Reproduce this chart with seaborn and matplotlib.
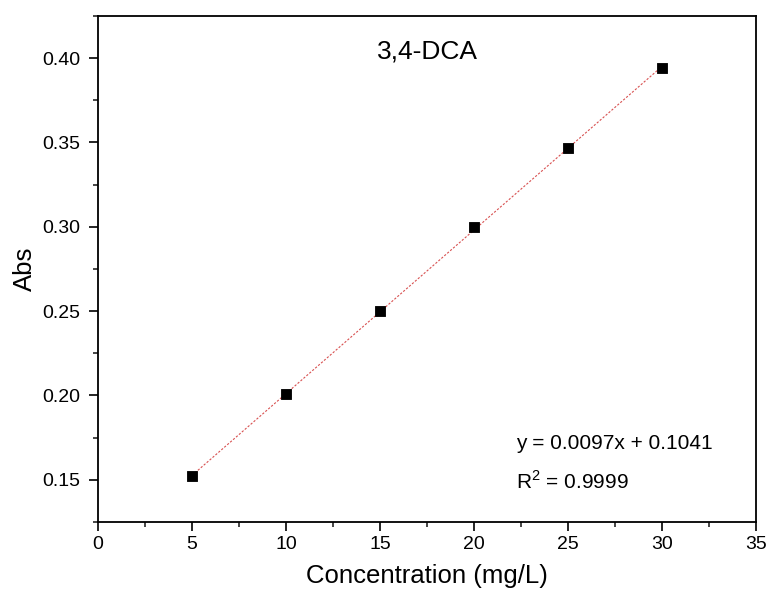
import numpy as np
import matplotlib
matplotlib.use("Agg")
import matplotlib.pyplot as plt
import seaborn as sns
import pandas as pd
from matplotlib.ticker import MultipleLocator

conc = [5, 10, 15, 20, 25, 30]
absorb = [0.152, 0.201, 0.250, 0.300, 0.347, 0.394]
slope = 0.0097
intercept = 0.1041
title_text = "3,4-DCA"
eq_text = "y = 0.0097x + 0.1041"
r2_text = "R$^2$ = 0.9999"

sns.set_theme(style="ticks")
plt.rcParams['font.family'] = ['Liberation Sans', 'DejaVu Sans']
plt.rcParams['mathtext.fontset'] = 'custom'
plt.rcParams['mathtext.rm'] = 'Liberation Sans'
plt.rcParams['text.color'] = 'black'
plt.rcParams['axes.labelcolor'] = 'black'

df = pd.DataFrame({"x": conc, "y": absorb})
fit_x = np.array([conc[0], conc[-1]])
fit_df = pd.DataFrame({"x": fit_x, "y": slope * fit_x + intercept})

fig = plt.figure(figsize=(7.73, 6.03), dpi=100)
ax = fig.add_axes([98/773, 1-522/603, (756-98)/773, (522-16)/603])

sns.lineplot(data=fit_df, x="x", y="y", ax=ax, color="#d85050", lw=0.8,
             linestyle=(0, (2, 1.5)), zorder=2)
sns.scatterplot(data=df, x="x", y="y", ax=ax, marker="s", s=60, color="black",
                edgecolor="black", zorder=3)

ax.set_xlim(0, 35)
ax.set_ylim(0.125, 0.425)
ax.xaxis.set_major_locator(MultipleLocator(5))
ax.xaxis.set_minor_locator(MultipleLocator(2.5))
ax.yaxis.set_major_locator(MultipleLocator(0.05))
ax.yaxis.set_minor_locator(MultipleLocator(0.025))
ax.yaxis.set_major_formatter(matplotlib.ticker.FormatStrFormatter('%.2f'))
ax.tick_params(which='major', direction='out', length=6.5, width=1.2, labelsize=14,
               colors='black')
ax.tick_params(axis='y', which='major', pad=6)
ax.tick_params(which='minor', direction='out', length=3.5, width=1.2)
for s in ax.spines.values():
    s.set_linewidth(1.3)
    s.set_color('black')

ax.set_xlabel("Concentration (mg/L)", fontsize=18.5, labelpad=8)
ax.set_ylabel("Abs", fontsize=18.5, labelpad=4)

ax.text(0.5, 0.93, title_text, transform=ax.transAxes, ha='center', va='center', fontsize=19)
ax.text(0.636, 0.155, eq_text, transform=ax.transAxes, ha='left', va='center', fontsize=15)
ax.text(0.636, 0.08, r2_text, transform=ax.transAxes, ha='left', va='center', fontsize=15)

fig.savefig("out.png", dpi=100)
